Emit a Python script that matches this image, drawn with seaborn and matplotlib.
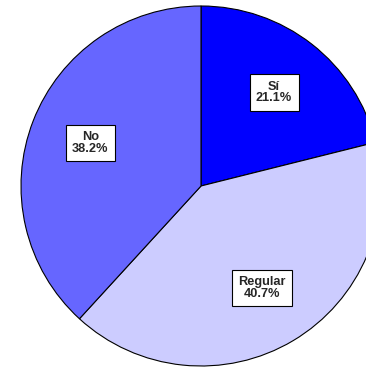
import matplotlib
matplotlib.use("Agg")
import matplotlib.pyplot as plt
import seaborn as sns

# data
categories = ["Sí", "Regular", "No"]
percentages = [21.1, 40.7, 38.2]
colors = ["#0000FF", "#CCCCFF", "#6666FF"]

sns.set_style("white")
plt.rcParams["font.family"] = ["Liberation Sans", "DejaVu Sans"]

fig = plt.figure(figsize=(3.66, 3.70), dpi=100)
ax = fig.add_axes([21 / 366, 4 / 370, 360 / 366, 360 / 370])

labels = [f"{c}\n{p:.1f}%" for c, p in zip(categories, percentages)]
wedges, texts = ax.pie(
    percentages,
    labels=labels,
    colors=colors,
    startangle=90,
    counterclock=False,
    labeldistance=0.66,
    radius=1.0,
    wedgeprops={"edgecolor": "black", "linewidth": 0.8},
    textprops={"fontsize": 9.2, "fontweight": "bold", "ha": "center",
               "va": "center", "linespacing": 0.95},
)
for t in texts:
    t.set_horizontalalignment("center")
    t.set_multialignment("center")
    t.set_bbox({"facecolor": "white", "edgecolor": "black",
                "linewidth": 0.8, "boxstyle": "square,pad=0.5"})

ax.set_xlim(-1, 1)
ax.set_ylim(-1, 1)
ax.set_aspect("equal")
ax.axis("off")
for w in wedges:
    w.set_clip_on(False)

fig.savefig("out.png", dpi=100)
